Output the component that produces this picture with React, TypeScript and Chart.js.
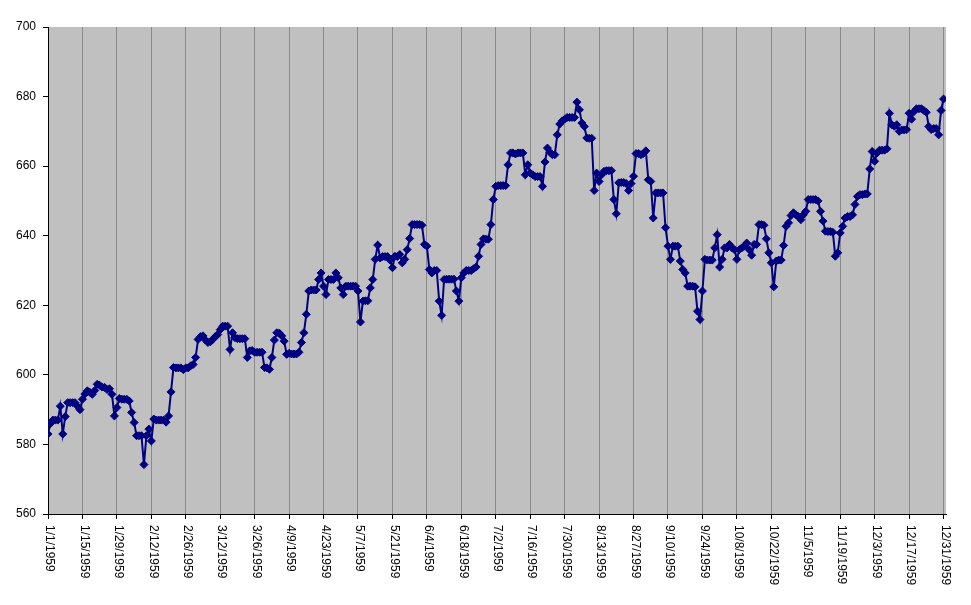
import React, { useEffect, useRef } from "react";
import { Chart, registerables } from "chart.js";

Chart.register(...registerables);

// Daily values, 1/1/1959 (day 0) .. 12/31/1959 (day 364)
const values: number[] = [
  583, 586, 587, 587, 587, 591, 583, 588, 592, 592,
  592, 592, 591, 590, 593, 594.5, 595.4, 595, 594.4, 595.5,
  597.3, 597, 596.5, 596.4, 595.8, 596, 594.4, 588.2, 590.6, 593.2,
  593, 593, 593, 592.5, 589.2, 586.3, 582.5, 582.5, 582.5, 574.2,
  582.5, 584.4, 581, 587.3, 587, 587, 587, 587, 586.4, 588.2,
  595.1, 602.1, 602, 602, 602, 601.5, 602, 602, 602.6, 603,
  605, 610.2, 611, 611.2, 610, 609.3, 609.5, 610.2, 611, 611.6,
  613, 614, 614, 614, 607.3, 612.1, 610.7, 610.4, 610.4, 610.4,
  610.4, 605, 606.9, 607, 606.5, 606.5, 606.5, 606.5, 602.1, 602,
  601.6, 605, 610, 612.1, 612, 611.2, 609.7, 605.9, 606.2, 606,
  606, 606, 606.5, 609.3, 612.1, 617.4, 624.1, 624.4, 624.4, 624.4,
  627.4, 629.3, 625.5, 623.1, 627.4, 627.4, 627.4, 629.3, 627.9, 625,
  623.1, 625.5, 625.5, 625.5, 625.5, 625.5, 624.1, 615.2, 621.2, 621.3,
  621.3, 625, 627.4, 633.2, 637.3, 633.6, 634, 634, 634, 633,
  630.8, 634.1, 634, 634.6, 632.2, 633.2, 636, 639.2, 643.2, 643.2,
  643.2, 643.2, 643, 637.5, 637, 630.3, 629.3, 630, 630, 621.2,
  617.1, 627.4, 627.5, 627.5, 627.5, 627.5, 624.1, 621.2, 627.9, 629.3,
  630, 630, 630, 630.5, 631, 634.1, 637.5, 639.1, 639, 639,
  643.2, 650.4, 654.2, 654.4, 654.4, 654.4, 654.4, 660.4, 663.8, 663.8,
  663.5, 663.8, 663.8, 663.8, 657.5, 660.4, 658, 657.5, 657, 657,
  657, 654.2, 661.2, 665.2, 664, 663.3, 663.3, 669, 672.1, 673,
  673.5, 674, 674, 674, 674, 678.4, 676.2, 672.4, 671.4, 668.1,
  668, 668, 653, 658, 655.6, 657.5, 658.5, 658.7, 658.7, 658.7,
  650.4, 646.3, 655.2, 655.3, 655.3, 655, 653, 655, 657.1, 663.6,
  663.6, 663.3, 663.6, 664.4, 656.1, 655.6, 645.1, 652.3, 652.3, 652.3,
  652.3, 642.3, 637, 633.2, 637, 637, 637, 632.7, 630.3, 629.3,
  625.5, 625.5, 625.5, 625.3, 618.3, 615.9, 624.1, 633.2, 633, 633,
  633, 636.5, 640.3, 631, 633.2, 636.5, 636.5, 637.5, 636.5, 636,
  633.2, 636, 636.5, 637, 637.9, 636, 634.4, 637.5, 637.5, 643.2,
  643.2, 643, 639.1, 635.1, 632.2, 625.3, 632.7, 633, 633, 637.2,
  642.7, 643.7, 645.8, 646.6, 646, 645.5, 644.6, 646, 647, 650.4,
  650.4, 650.4, 650.4, 650, 647, 644.2, 641.3, 641.2, 641.2, 641,
  634.1, 635.1, 640.8, 642.7, 645.1, 645.5, 645.5, 646, 649, 651.3,
  651.8, 651.8, 652, 652, 659.2, 664.2, 661.4, 663.8, 664.6, 664.6,
  664.6, 665, 675.2, 671.9, 671.5, 671.9, 670, 670.4, 670.4, 670.5,
  675.2, 673.5, 675.7, 676.5, 676.5, 676.5, 676, 675.5, 671.4, 670.5,
  670.8, 670.8, 669, 676, 679.3,
];

const tickDays: number[] = [0, 14, 28, 42, 56, 70, 84, 98, 112, 126, 140, 154, 168, 182, 196, 210, 224, 238, 252, 266, 280, 294, 308, 322, 336, 350, 364];
const tickLabels: string[] = [
  "1/1/1959", "1/15/1959", "1/29/1959", "2/12/1959", "2/26/1959", "3/12/1959", "3/26/1959",
  "4/9/1959", "4/23/1959", "5/7/1959", "5/21/1959", "6/4/1959", "6/18/1959", "7/2/1959",
  "7/16/1959", "7/30/1959", "8/13/1959", "8/27/1959", "9/10/1959", "9/24/1959", "10/8/1959",
  "10/22/1959", "11/5/1959", "11/19/1959", "12/3/1959", "12/17/1959", "12/31/1959",
];
const yTicks: number[] = [560, 580, 600, 620, 640, 660, 680, 700];

const FONT = "'Liberation Sans', Arial, sans-serif";

export default function App() {
  const ref = useRef<HTMLCanvasElement | null>(null);

  useEffect(() => {
    if (!ref.current) return;
    const bgPlugin = {
      id: "plotBg",
      beforeDraw(chart: any) {
        const { ctx, chartArea } = chart;
        ctx.save();
        ctx.fillStyle = "#C0C0C0";
        ctx.fillRect(chartArea.left, chartArea.top, chartArea.right - chartArea.left, chartArea.bottom - chartArea.top);
        ctx.restore();
      },
    };
    const xLabelPlugin = {
      id: "xLabels",
      afterDraw(chart: any) {
        const { ctx, scales, chartArea } = chart;
        const xs = scales.x;
        ctx.save();
        ctx.fillStyle = "#000";
        ctx.font = `12px ${FONT}`;
        ctx.textAlign = "left";
        ctx.textBaseline = "middle";
        tickDays.forEach((d, i) => {
          const px = xs.getPixelForValue(d);
          ctx.save();
          ctx.translate(px + 1.5, chartArea.bottom + 11);
          ctx.rotate(Math.PI / 2);
          ctx.fillText(tickLabels[i], 0, 0);
          ctx.restore();
        });
        ctx.restore();
      },
    };

    const chart = new Chart(ref.current, {
      type: "line",
      data: {
        datasets: [
          {
            data: values.map((v, i) => ({ x: i, y: v })),
            borderColor: "#000080",
            backgroundColor: "#000080",
            borderWidth: 2,
            pointStyle: "rectRot",
            pointRadius: 4,
            pointBorderWidth: 1,
            pointBorderColor: "#000080",
            pointBackgroundColor: "#000080",
            tension: 0,
            fill: false,
          },
        ],
      },
      options: {
        responsive: false,
        animation: false,
        devicePixelRatio: 1,
        layout: { padding: { top: 27, right: 25, left: 0, bottom: 0 } },
        plugins: { legend: { display: false }, tooltip: { enabled: false } },
        scales: {
          x: {
            type: "linear",
            min: 0,
            max: 365,
            afterBuildTicks: (scale: any) => {
              scale.ticks = tickDays.map((v) => ({ value: v }));
            },
            afterFit: (scale: any) => {
              scale.height = 91;
            },
            ticks: { display: false },
            grid: { color: "#8a8a8a", tickColor: "#000", tickLength: 5, lineWidth: 1 },
            border: { color: "#000", width: 1 },
          },
          y: {
            min: 560,
            max: 700,
            afterBuildTicks: (scale: any) => {
              scale.ticks = yTicks.map((v) => ({ value: v }));
            },
            afterFit: (scale: any) => {
              scale.width = 48;
            },
            ticks: { color: "#000", font: { family: FONT, size: 12 }, padding: 7 },
            grid: { drawOnChartArea: false, tickColor: "#000", tickLength: 5 },
            border: { color: "#000", width: 1 },
          },
        },
      },
      plugins: [bgPlugin, xLabelPlugin],
    });
    return () => chart.destroy();
  }, []);

  return (
    <div style={{ position: "absolute", left: 0, top: 0, width: 971, height: 605, background: "#fff" }}>
      <canvas ref={ref} width={971} height={605} style={{ width: 971, height: 605 }} />
    </div>
  );
}
